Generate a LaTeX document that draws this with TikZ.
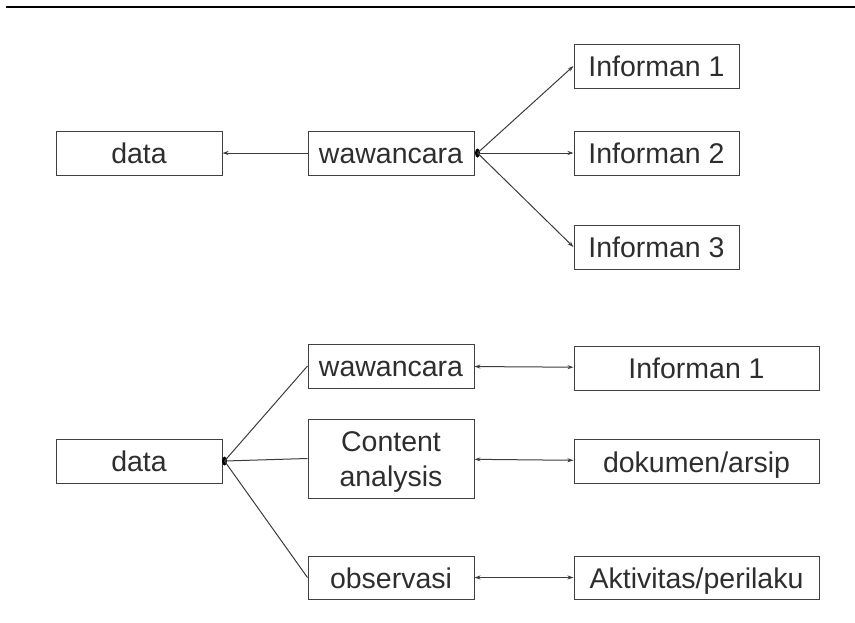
\documentclass[tikz,border=0pt]{standalone}
\usepackage{fontspec}
\setmainfont{Liberation Sans}
\usetikzlibrary{positioning, arrows.meta, shapes.geometric}
\definecolor{boxgray}{HTML}{404040}
\definecolor{linegray}{HTML}{3C3C3C}
\definecolor{textgray}{HTML}{2E2E2E}
\tikzstyle{bblock} = [rectangle, draw=boxgray, line width=1pt, text=textgray,
minimum width=166pt, minimum height=44pt, inner sep=0pt, align=center,
text height=21pt, text depth=0pt]
\tikzstyle{wblock} = [bblock, minimum width=245pt]
\tikzstyle{arrow} = [line width=1pt, draw=linegray, -{Stealth[length=6pt,width=4pt]}]
\tikzstyle{dblarrow} = [line width=1pt, draw=linegray, {Stealth[length=6pt,width=4pt]}-{Stealth[length=6pt,width=4pt]}]
\tikzstyle{line} = [line width=1pt, draw=linegray]
\tikzstyle{dot} = [ellipse, fill=black, inner sep=0pt, minimum width=5pt, minimum height=9pt]

\begin{document}
\begin{tikzpicture}[x=1pt, y=-1pt]
            \tikzstyle{every node}=[font=\fontsize{28.5}{35}\selectfont]
            \useasboundingbox (0,0) rectangle (855,622);
            \draw [line width=1.5pt, black] (6,7) -- (855,7);
            % wawancara ke informan
            \node (tdata) [bblock] at (139,153) {data};
        \node (twaw) [bblock, right=85pt of tdata] {wawancara};
        \node (tinf2) [bblock, minimum width=165pt, right=99pt of twaw] {Informan 2};
        \node (tinf1) [bblock, minimum width=165pt, above=42pt of tinf2] {Informan 1};
        \node (tinf3) [bblock, minimum width=165pt, below=49pt of tinf2] {Informan 3};
        \node (tdot) [dot] at ([xshift=3pt]twaw.east) {};

            \draw [arrow] (twaw) -- (tdata);
            \draw [arrow] (tdot.center) -- (tinf1.west);
            \draw [arrow] (tdot.center) -- (tinf2.west);
            \draw [arrow] (tdot.center) -- (tinf3.west);

            % sumber data
            \node (bdata) [bblock] at (139,461) {data};
        \node (bcont) [bblock, minimum height=79pt, text height=56pt, right=85pt of bdata, yshift=2.5pt] {Content\\analysis};
        \node (bwaw) [bblock, above=30pt of bcont] {wawancara};
        \node (bobs) [bblock, minimum height=43pt, below=57pt of bcont] {observasi};
        \node (binf) [wblock, right=99pt of bwaw, yshift=-2pt] {Informan 1};
        \node (bdok) [wblock, right=99pt of bcont, yshift=-3pt] {dokumen/arsip};
        \node (bakt) [wblock, minimum height=43pt, right=99pt of bobs] {Aktivitas/perilaku};
        \node (bdot) [dot] at ([xshift=2pt]bdata.east) {};

            \draw [line] (bdot.center) -- (bwaw.west);
            \draw [line] (bdot.center) -- (bcont.west);
            \draw [line] (bdot.center) -- (bobs.west);
            \draw [dblarrow] (bwaw) -- (binf);
            \draw [dblarrow] (bcont) -- (bdok);
            \draw [dblarrow] (bobs) -- (bakt);
        \end{tikzpicture}
\end{document}
